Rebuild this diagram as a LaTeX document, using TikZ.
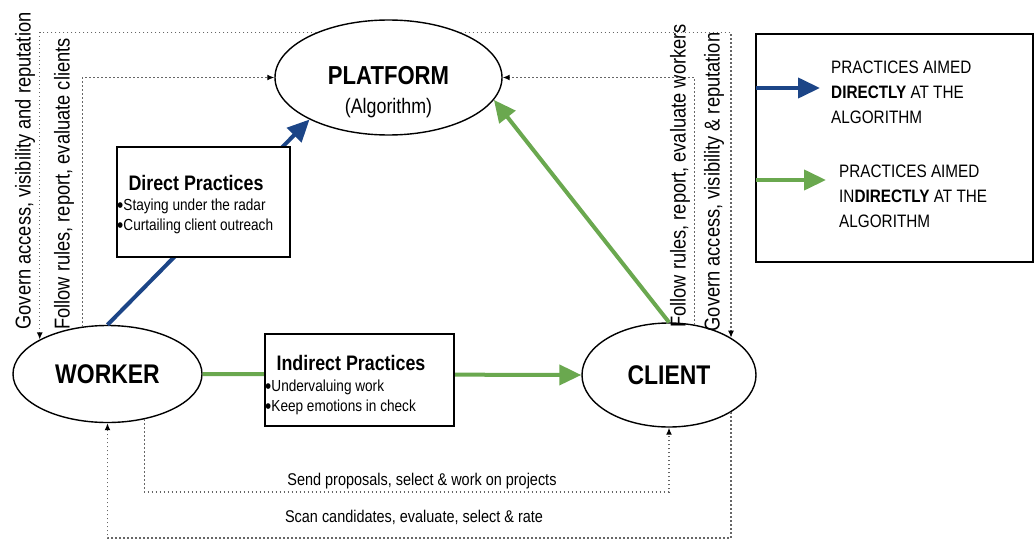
\documentclass[tikz,border=0pt]{standalone}
\usepackage{fontspec}
\setmainfont{Liberation Sans}[FakeStretch=0.85]
\usepackage{tikz}
\usetikzlibrary{arrows.meta,shapes.geometric,positioning}

\definecolor{algblue}{RGB}{28,69,135}
\definecolor{alggreen}{RGB}{106,168,79}

\newcommand{\itmdot}{\raisebox{-2.5pt}[0pt][0pt]{\fontsize{21}{16}\selectfont\textbullet}}

\tikzstyle{el}   = [ellipse, draw=black, line width=1.4pt, inner sep=0pt, font=\fontsize{27}{30}\selectfont\bfseries]
\tikzstyle{bx}   = [rectangle, draw=black, line width=1.4pt, fill=white, inner sep=0pt]
\tikzstyle{ttl}  = [inner sep=0pt, font=\fontsize{21}{24}\selectfont\bfseries]
\tikzstyle{itm}  = [inner sep=0pt, anchor=west, font=\fontsize{16}{20}\selectfont]
\tikzstyle{side} = [inner sep=0pt, rotate=90, font=\fontsize{21.5}{24}\selectfont]
\tikzstyle{low}  = [inner sep=0pt, font=\fontsize{17}{20}\selectfont]
\tikzstyle{leg}  = [inner sep=0pt, anchor=west, align=left, font=\fontsize{18}{25}\selectfont]
\tikzstyle{dt}   = [black!60, line width=1.3pt, dash pattern=on 1.5pt off 2.5pt, -{Latex[length=7pt,width=6pt,black]}]
\tikzstyle{ba}   = [algblue, line width=4pt, -{Triangle[length=22pt,width=20pt]}]
\tikzstyle{ga}   = [alggreen, line width=4pt, -{Triangle[length=22pt,width=20pt]}]

\begin{document}
\begin{tikzpicture}[x=1pt,y=-1pt]
		\useasboundingbox (0,0) rectangle (1035,543);

		% the three actors
		\node[el, minimum width=227pt, minimum height=115pt] (plat) at (388.5,77.5) {};
		\node[inner sep=0pt, font=\fontsize{26}{28}\selectfont\bfseries] (platt) at (388.5,76) {PLATFORM};
		\node[inner sep=0pt, font=\fontsize{21}{24}\selectfont] (plata) at (388.5,108) {(Algorithm)};
		\node[el, minimum width=189pt, minimum height=97pt] (wrk) at (107.5,374) {WORKER};
		\node[el, minimum width=174pt, minimum height=104pt] (cli) at (669,375) {CLIENT};

		\coordinate (sendy) at (0,492);
		\coordinate (scany) at (0,538);

		% dotted relations
		\draw[dt] (plat.148) -| (wrk.153);
		\draw[dt] (wrk.118) |- (plat.west);
		\draw[dt] (plat.32) -| (cli.31);
		\draw[dt] (cli.63) |- (plat.east);
		\draw[dt] (wrk.-51) -- (wrk.-51 |- sendy) -| (cli.south);
		\draw[dt] (cli.-31) -- (cli.-31 |- scany) -| (wrk.south);

		\node[side] (govl) at (25,171) {Govern access, visibility and reputation};
		\node[side] (folll) at (64,184) {Follow rules, report, evaluate clients};
		\node[side] (follr) at (680,176) {Follow rules, report, evaluate workers};
		\node[side] (govr) at (714,182) {Govern access, visibility \& reputation};
		\node[low] (sendt) at (422,481) {Send proposals, select \& work on projects};
		\node[low] (scant) at (414,517) {Scan candidates, evaluate, select \& rate};

		% practices
		\draw[ba] (wrk.north) -- (plat.208);
		\draw[ga] (wrk.east) -- (cli.west);
		\draw[ga] (cli.north) -- (plat.-12);

		\node[bx, minimum width=173pt, minimum height=110pt] (direct) at (203.5,202) {};
		\node[ttl] (directt) at (196,183) {Direct Practices};
		\node[itm] (direct1) at (117,206) {\itmdot Staying under the radar};
		\node[itm] (direct2) at (117,226) {\itmdot Curtailing client outreach};

		\node[bx, minimum width=189pt, minimum height=92pt] (indirect) at (359.5,380) {};
		\node[ttl] (indirectt) at (351,363) {Indirect Practices};
		\node[itm] (indirect1) at (265,387) {\itmdot Undervaluing work};
		\node[itm] (indirect2) at (265,407) {\itmdot Keep emotions in check};

		% legend
		\node[bx, minimum width=277pt, minimum height=228pt] (legend) at (894.5,148) {};
		\coordinate (lb1) at (756,88);
		\coordinate (lb2) at (820,88);
		\coordinate (lg1) at (756,180);
		\coordinate (lg2) at (826,180);
		\draw[ba] (lb1) -- (lb2);
		\draw[ga] (lg1) -- (lg2);
		\node[leg] (legd) at (831,92) {PRACTICES AIMED\\\textbf{DIRECTLY} AT THE\\ALGORITHM};
		\node[leg] (legi) at (839,196) {PRACTICES AIMED\\IN\textbf{DIRECTLY} AT THE\\ALGORITHM};
	\end{tikzpicture}
\end{document}
